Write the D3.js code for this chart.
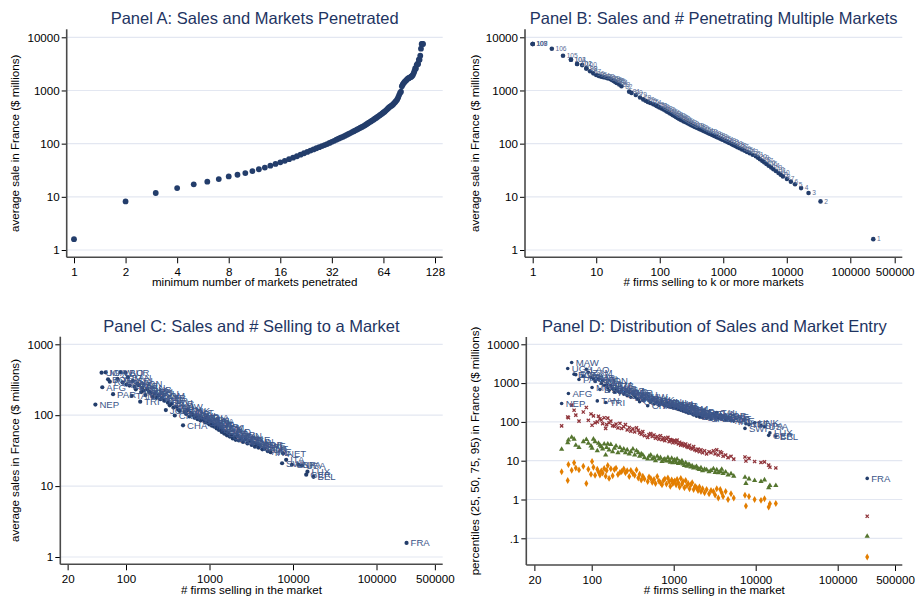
<!DOCTYPE html>
<html>
<head>
<meta charset="utf-8">
<script src="https://cdn.jsdelivr.net/npm/d3@7"></script>
<style>
  body { margin: 0; background: #fff; }
  svg { display: block; font-family: "Liberation Sans", Arial, sans-serif; }
  .axis path { display: none; }
  .axis line { stroke: #000; }
  .axis text { fill: #000; font-size: 11.6px; font-family: "Liberation Sans", Arial, sans-serif; }
</style>
</head>
<body>
<svg id="chart" width="917" height="596"></svg>
<script>
// ---- Panels A & B: firms by minimum number of markets k ----
const marketsK = [1, 2, 3, 4, 5, 6, 7, 8, 9, 10,
  11, 12, 13, 14, 15, 16, 17, 18, 19, 20,
  21, 22, 23, 24, 25, 26, 27, 28, 29, 30,
  31, 32, 33, 34, 35, 36, 37, 38, 39, 40,
  41, 42, 43, 44, 45, 46, 47, 48, 49, 50,
  51, 52, 53, 54, 55, 56, 57, 58, 59, 60,
  61, 62, 63, 64, 65, 66, 67, 68, 69, 70,
  71, 72, 73, 74, 75, 76, 77, 78, 79, 80,
  81, 82, 83, 84, 85, 86, 87, 88, 89, 90,
  91, 92, 93, 94, 95, 96, 97, 98, 99, 100,
  101, 102, 103, 104, 105, 106, 107, 108, 109];

// average sale in France ($ millions) of firms selling to k or more markets
const avgSaleK = [1.6, 8.2, 11.8, 14.6, 17.2, 19.3, 21.6, 24.2, 26, 28,
  30.5, 33, 35.5, 38.5, 41.5, 44.5, 47.5, 51, 54.5, 58,
  62, 66, 70, 74, 78, 82, 86, 90, 94, 98,
  103, 108, 113, 119, 124, 129, 134, 140, 146, 152,
  158, 165, 171, 178, 185, 192, 199, 206, 214, 222,
  232, 242, 252, 262, 272, 283, 294, 305, 317, 330,
  342, 356, 370, 385, 400, 418, 438, 460, 480, 498,
  512, 528, 552, 580, 610, 640, 680, 740, 820, 900,
  950, 1200, 1300, 1380, 1450, 1500, 1560, 1620, 1680, 1700,
  1750, 1780, 1820, 1870, 1950, 2100, 2300, 2600, 2600, 3000,
  3150, 3150, 3800, 3800, 4500, 6100, 7500, 7500, 7500];

// number of firms selling to k or more markets
const firmsK = [230000, 34000, 22000, 16800, 13500, 11600, 10070, 8700, 8050, 7420,
  6750, 6170, 5690, 5200, 4790, 4430, 4110, 3790, 3530, 3260,
  2910, 2610, 2370, 2160, 1980, 1820, 1680, 1560, 1445, 1350,
  1240, 1146, 1060, 968, 900, 836, 782, 723, 670, 622,
  579, 537, 502, 469, 437, 408, 382, 359, 336, 314,
  294, 275, 257, 240, 226, 213, 201, 191, 181, 172,
  162, 155, 146, 139, 131, 123, 115, 107, 99, 94,
  90, 86, 79, 71, 65, 60, 55, 49, 42, 36,
  33, 25, 23, 21, 20, 19, 18, 17, 16, 15,
  14, 13, 12, 11, 10, 9, 8, 7, 7, 6,
  5, 5, 4, 4, 3, 2, 1, 1, 1];

// ---- Panels C & D: destination markets ----
const marketCodes = ['NEP','UGA','AFG','MAW','BOL','RWA','PAR','YEM','LAO','ZAM',
  'BUR','MOZ','BAN','ZIM','TAN','SRI','ETH','NIC','HON','VIE',
  'TRI','ARM','PAN','JAM','UZB','CUB','KEN','ELS','GUA','ECU',
  'KAZ','DOM','ALB','SYR','PER','JOR','URU','GHA','BLR','PHI',
  'CRC','KUW','VEN','BAH','CHA','COL','UKR','PAK','NIG','QAT',
  'IRA','ARG','BUL','SIN','IND','OMA','CHI','EGY','SAU','THA',
  'LEB','MAL','HKG','BRA','ISR','NZL','KOR','LIT','MEX','ROM',
  'LAT','SLV','CAM','AUL','EST','CRO','TUR','IVO','SLO','GAB',
  'CYP','SEN','RUS','HUN','CZE','JPN','CAN','GRE','POL','TUN',
  'ALG','TAI','NOR','MOR','DEN','SWE','POR','AUT','ARE','IRL',
  'SWI','NET','ITA','UNK','SPA','USA','GER','LUX','BEL','FRA'];

const firmsInMarket = [43, 51, 52, 57, 61, 64, 70, 79, 86, 91,
  98, 101, 105, 110, 117, 121, 126, 131, 136, 142,
  148, 152, 157, 163, 171, 180, 189, 198, 209, 221,
  232, 246, 258, 271, 287, 300, 318, 334, 352, 370,
  384, 402, 420, 440, 482, 500, 525, 548, 575, 600,
  630, 660, 690, 720, 750, 780, 815, 850, 880, 910,
  945, 975, 998, 1030, 1070, 1100, 1140, 1180, 1220, 1260,
  1300, 1350, 1400, 1450, 1500, 1560, 1620, 1680, 1750, 1820,
  1900, 1980, 2060, 2150, 2250, 2380, 2520, 2700, 2850, 3050,
  3200, 3350, 3500, 3700, 3850, 4000, 4300, 4600, 5000, 5400,
  7400, 7600, 8280, 9700, 11600, 12800, 14400, 14900, 17600, 229000];

const avgSalesMkt = [141, 398, 248, 403, 321, 297, 198, 325, 404, 290,
  398, 270, 342, 262, 187, 305, 252, 232, 282, 265,
  155, 212, 243, 222, 192, 232, 216, 206, 182, 201,
  176, 190, 168, 175, 160, 118, 150, 138, 145, 128,
  99, 132, 120, 115, 72, 112, 104, 118, 96, 108,
  101, 92, 98, 88, 95, 84, 90, 86, 80, 93,
  78, 84, 74, 82, 71, 76, 69, 73, 65, 68,
  62, 66, 58, 61, 55, 59, 52, 56, 50, 53,
  47, 49, 45, 51, 44, 47, 42, 46, 40, 43,
  38, 41, 36, 39, 35, 37, 33, 34, 31, 30,
  21, 29, 23.5, 20, 20, 19.5, 14.5, 16, 13.5, 1.58];

const p95Sales = [298, 2380, 540, 3390, 1700, 1650, 1240, 1500, 2280, 1900,
  1400, 770, 1300, 1100, 348, 1250, 684, 980, 1150, 880,
  316, 900, 760, 650, 870, 720, 580, 690, 620, 560,
  640, 520, 590, 470, 560, 430, 520, 460, 410, 380,
  330, 440, 360, 395, 260, 350, 320, 380, 290, 310,
  330, 270, 300, 340, 280, 260, 310, 250, 290, 240,
  275, 230, 260, 245, 220, 270, 210, 230, 200, 215,
  190, 205, 180, 195, 170, 185, 175, 160, 150, 165,
  140, 155, 135, 145, 130, 150, 125, 140, 120, 160,
  140, 175, 130, 150, 120, 135, 115, 125, 110, 105,
  68, 90, 85, 95, 80, 75, 45, 52, 43, 3.5];

const p75Sales = [79, 134, 128, 270, 200, 150, 105, 180, 235, 110,
  160, 82, 143, 95, 100, 140, 120, 112, 90, 128,
  68, 85, 125, 95, 105, 80, 77, 88, 70, 92,
  68, 75, 85, 62, 72, 58, 66, 55, 70, 61,
  52, 48, 56, 44, 40, 47, 50, 42, 46, 38,
  42, 36, 44, 35, 39, 33, 37, 40, 31, 35,
  34, 29, 32, 33, 29, 34, 27, 30, 25, 28,
  26, 24, 27, 23, 22, 25, 21, 20, 23, 19,
  18, 20, 17, 19, 16, 18, 15, 17, 16, 18,
  15, 19, 14, 17, 16, 13, 14, 12, 13, 11,
  12.5, 9.8, 11.5, 9.5, 9.0, 9.3, 7.7, 6.8, 6.5, 0.37];

const p50Sales = [19.8, 29, 34, 40, 36, 25, 22, 31, 35, 28,
  24, 21, 36, 31, 18, 28, 25, 23, 20, 27,
  14, 22, 27, 19, 26, 17, 21, 24, 16, 22,
  18, 20, 16, 19, 15, 17, 20, 14, 18, 16,
  13, 15, 14, 12, 11, 13, 14, 11, 12, 10,
  13, 11, 12, 9.5, 10.5, 11, 9.8, 12, 10, 9.2,
  11.5, 8.8, 10, 10.5, 9, 11, 8.5, 9.4, 9, 10,
  8.2, 7.5, 8.8, 7.2, 8, 7.8, 6.9, 7.4, 6.5, 6.8,
  7.1, 6.2, 5.9, 6.6, 5.5, 6.0, 5.8, 5.2, 5.6, 6.2,
  5.0, 5.8, 4.9, 5.3, 6.0, 4.7, 5.1, 4.3, 4.6, 4.0,
  3.75, 2.6, 3.4, 3.1, 2.9, 3.2, 2.0, 2.3, 2.3, 0.113];

const p25Sales = [5.2, 3.1, 8.0, 5.7, 8.9, 6.5, 5.8, 7.2, 2.6, 6.0,
  4.5, 9.5, 6.8, 4.2, 6.0, 5.1, 4.3, 5.4, 4.8, 6.3,
  4.0, 5.6, 7.5, 3.5, 6.2, 4.1, 5.9, 6.4, 4.4, 5.0,
  5.3, 6.1, 4.9, 5.5, 3.9, 5.6, 4.7, 4.2, 5.8, 3.6,
  4.5, 3.2, 4.0, 3.4, 2.9, 3.8, 3.5, 2.8, 3.3, 2.6,
  3.9, 3.0, 2.7, 2.4, 3.1, 3.4, 2.5, 3.6, 2.9, 2.2,
  3.2, 2.6, 2.8, 3.0, 2.4, 3.3, 2.7, 2.1, 3.5, 2.5,
  2.9, 2.0, 3.1, 2.3, 2.6, 1.9, 2.4, 2.7, 1.8, 2.2,
  2.0, 1.7, 2.1, 1.6, 1.9, 1.5, 1.8, 1.4, 1.7, 1.6,
  1.3, 1.9, 1.1, 1.8, 1.5, 1.2, 1.6, 1.0, 1.4, 1.1,
  1.29, 0.68, 1.2, 1.0, 0.95, 1.05, 0.64, 0.78, 0.79, 0.033];

// ---- styling ----
const navy = '#233d6b';
const labelNavy = '#3d5689';
const maroon = '#90353b';
const green = '#55752f';
const orange = '#e37e00';
const titleColor = '#1e3462';
const gridColor = '#e3e7f1';

const svg = d3.select('#chart');

// draws gridlines, axes and texts of one panel
function drawFrame(p) {
  const g = svg.append('g');

  g.append('g').selectAll('line')
    .data(p.yTicks)
    .join('line')
      .attr('x1', p.left).attr('x2', p.right)
      .attr('y1', d => p.y(d)).attr('y2', d => p.y(d))
      .attr('stroke', gridColor).attr('stroke-width', 1.2);

  g.append('g')
      .attr('class', 'axis')
      .attr('transform', `translate(${p.left},0)`)
      .call(d3.axisLeft(p.y).tickValues(p.yTicks).tickFormat(p.yFmt).tickSize(5).tickPadding(2));

  g.append('g')
      .attr('class', 'axis')
      .attr('transform', `translate(0,${p.bottom})`)
      .call(d3.axisBottom(p.x).tickValues(p.xTicks).tickFormat(d3.format('d')).tickSize(6).tickPadding(4.5));

  g.append('line')
      .attr('x1', p.left).attr('x2', p.left).attr('y1', p.top).attr('y2', p.bottom)
      .attr('stroke', '#4a4a4a').attr('stroke-width', 1.6);
  g.append('line')
      .attr('x1', p.left).attr('x2', p.right).attr('y1', p.bottom).attr('y2', p.bottom)
      .attr('stroke', '#4a4a4a').attr('stroke-width', 1.6);

  const cx = (p.left + p.right) / 2;
  g.append('text')
      .attr('x', cx).attr('y', p.titleY)
      .attr('text-anchor', 'middle')
      .attr('fill', titleColor).style('font-size', '16.5px')
      .text(p.title);
  g.append('text')
      .attr('x', cx).attr('y', p.xTitleY)
      .attr('text-anchor', 'middle')
      .style('font-size', '11.6px')
      .text(p.xTitle);
  g.append('text')
      .attr('transform', `translate(${p.yTitleX},${(p.top + p.bottom) / 2}) rotate(-90)`)
      .attr('text-anchor', 'middle')
      .style('font-size', '11.6px')
      .text(p.yTitle);
  return g;
}

const yFmtPlain = d => d < 1 ? '.1' : String(d);
const panelK = marketsK.map((k, i) => ({k: k, sale: avgSaleK[i], firms: firmsK[i]}));
const markets = marketCodes.map((c, i) => ({
  code: c, firms: firmsInMarket[i], avg: avgSalesMkt[i],
  p95: p95Sales[i], p75: p75Sales[i], p50: p50Sales[i], p25: p25Sales[i]
}));

// Panel A
const pA = {
  left: 66.7, right: 442.7, top: 29.3, bottom: 257.3,
  x: d3.scaleLog().base(2).domain([1, 128]).range([74, 435]),
  y: d3.scaleLog().domain([1, 10000]).range([250, 37.3]),
  xTicks: [1, 2, 4, 8, 16, 32, 64, 128],
  yTicks: [1, 10, 100, 1000, 10000], yFmt: yFmtPlain,
  title: 'Panel A: Sales and Markets Penetrated', titleY: 24,
  xTitle: 'minimum number of markets penetrated', xTitleY: 286,
  yTitle: 'average sale in France ($ millions)', yTitleX: 19
};
const gA = drawFrame(pA);
gA.append('g').selectAll('circle')
  .data(panelK)
  .join('circle')
    .attr('cx', d => pA.x(d.k))
    .attr('cy', d => pA.y(d.sale))
    .attr('r', 2.9)
    .attr('fill', navy);

// Panel B
const pB = {
  left: 525, right: 902.3, top: 29.3, bottom: 257.3,
  x: d3.scaleLog().domain([1, 100000]).range([532.7, 850.3]),
  y: d3.scaleLog().domain([1, 10000]).range([250, 37.3]),
  xTicks: [1, 10, 100, 1000, 10000, 100000, 500000],
  yTicks: [1, 10, 100, 1000, 10000], yFmt: yFmtPlain,
  title: 'Panel B: Sales and # Penetrating Multiple Markets', titleY: 24,
  xTitle: '# firms selling to k or more markets', xTitleY: 286,
  yTitle: 'average sale in France ($ millions)', yTitleX: 479
};
const gB = drawFrame(pB);
gB.append('g').selectAll('circle')
  .data(panelK)
  .join('circle')
    .attr('cx', d => pB.x(d.firms))
    .attr('cy', d => pB.y(d.sale))
    .attr('r', 2.3)
    .attr('fill', navy);
gB.append('g').selectAll('text')
  .data(panelK)
  .join('text')
    .attr('x', d => pB.x(d.firms) + 3.7)
    .attr('y', d => pB.y(d.sale))
    .attr('dy', '0.35em')
    .attr('fill', '#5a6f98')
    .style('font-size', '6.6px')
    .text(d => d.k);

// Panel C
const pC = {
  left: 60.3, right: 442.7, top: 336.7, bottom: 564.3,
  x: d3.scaleLog().domain([100, 10000]).range([126, 293]),
  y: d3.scaleLog().domain([1, 1000]).range([557, 344.3]),
  xTicks: [20, 100, 1000, 10000, 100000, 500000],
  yTicks: [1, 10, 100, 1000], yFmt: yFmtPlain,
  title: 'Panel C: Sales and # Selling to a Market', titleY: 331.5,
  xTitle: '# firms selling in the market', xTitleY: 593.5,
  yTitle: 'average sales in France ($ millions)', yTitleX: 19
};
const gC = drawFrame(pC);
gC.append('g').selectAll('circle')
  .data(markets)
  .join('circle')
    .attr('cx', d => pC.x(d.firms))
    .attr('cy', d => pC.y(d.avg))
    .attr('r', 2.1)
    .attr('fill', navy);
gC.append('g').selectAll('text')
  .data(markets)
  .join('text')
    .attr('x', d => pC.x(d.firms) + 4)
    .attr('y', d => pC.y(d.avg))
    .attr('dy', '0.36em')
    .attr('fill', labelNavy)
    .style('font-size', '9.6px')
    .text(d => d.code);

// Panel D
const pD = {
  left: 526.3, right: 902.3, top: 337, bottom: 565,
  x: d3.scaleLog().domain([100, 10000]).range([591.7, 755.7]),
  y: d3.scaleLog().domain([0.1, 10000]).range([538.3, 344.3]),
  xTicks: [20, 100, 1000, 10000, 100000, 500000],
  yTicks: [0.1, 1, 10, 100, 1000, 10000], yFmt: yFmtPlain,
  title: 'Panel D: Distribution of Sales and Market Entry', titleY: 331.5,
  xTitle: '# firms selling in the market', xTitleY: 593.5,
  yTitle: 'percentiles (25, 50, 75, 95) in France ($ millions)', yTitleX: 479
};
const gD = drawFrame(pD);

gD.append('g').selectAll('path')
  .data(markets)
  .join('path')
    .attr('transform', d => `translate(${pD.x(d.firms)},${pD.y(d.p25)})`)
    .attr('d', d3.symbol(d3.symbolDiamond, 14))
    .attr('fill', orange);
gD.append('g').selectAll('path')
  .data(markets)
  .join('path')
    .attr('transform', d => `translate(${pD.x(d.firms)},${pD.y(d.p50)})`)
    .attr('d', d3.symbol(d3.symbolTriangle, 12))
    .attr('fill', green);
gD.append('g').selectAll('path')
  .data(markets)
  .join('path')
    .attr('transform', d => `translate(${pD.x(d.firms)},${pD.y(d.p75)})`)
    .attr('d', d3.symbol(d3.symbolTimes, 8))
    .attr('fill', 'none')
    .attr('stroke', maroon)
    .attr('stroke-width', 1.3);
gD.append('g').selectAll('circle')
  .data(markets)
  .join('circle')
    .attr('cx', d => pD.x(d.firms))
    .attr('cy', d => pD.y(d.p95))
    .attr('r', 1.8)
    .attr('fill', navy);
gD.append('g').selectAll('text')
  .data(markets)
  .join('text')
    .attr('x', d => pD.x(d.firms) + 4)
    .attr('y', d => pD.y(d.p95))
    .attr('dy', '0.36em')
    .attr('fill', labelNavy)
    .style('font-size', '9.6px')
    .text(d => d.code);
</script>
</body>
</html>
